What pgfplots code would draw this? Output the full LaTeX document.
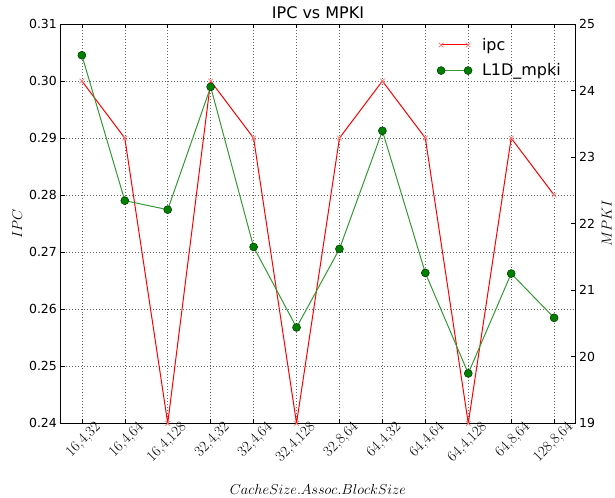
\documentclass[border=0pt]{standalone}
\usepackage{fontspec}
\usepackage{pgfplots}
\pgfplotsset{compat=1.18}
\newfontfamily\dejavu{DejaVu Sans}
\definecolor{mplgreen}{rgb}{0,0.5,0}
\definecolor{linegreen}{rgb}{0.2,0.6,0.2}
\begin{document}
\begin{tikzpicture}
\pgfplotsset{
  common/.style={
    width=516pt, height=400pt, scale only axis,
    xmin=-0.5, xmax=11.5,
    tick align=inside,
    major tick length=4.5pt,
    tick style={black, line width=0.6pt},
    axis line style={black, line width=0.9pt},
    /pgf/number format/assume math mode=true,
    label style={font=\fontsize{14}{16}\selectfont},
    every tick label/.append style={font=\dejavu\fontsize{12.5}{14}\selectfont},
  }
}
\begin{axis}[common, name=main,
  ymin=0.24, ymax=0.31,
  ytick={0.24,0.25,0.26,0.27,0.28,0.29,0.30,0.31},
  yticklabel style={/pgf/number format/fixed, /pgf/number format/fixed zerofill, /pgf/number format/precision=2},
  scaled y ticks=false,
  ytick pos=left,
  xtick pos=both,
  xtick={0,1,2,3,4,5,6,7,8,9,10,11},
  xticklabels={{16,4,32},{16,4,64},{16,4,128},{32,4,32},{32,4,64},{32,4,128},{32,8,64},{64,4,32},{64,4,64},{64,4,128},{64,8,64},{128,8,64}},
  xticklabel style={font=\rmfamily\fontsize{15}{17}\selectfont, rotate=45, anchor=north east, xshift=14pt, yshift=-3pt},
  grid=major,
  major grid style={black!60, line width=0.5pt, dash pattern=on 1pt off 2pt},
  ylabel={$IPC$},
  xlabel={$CacheSize.Assoc.BlockSize$},
  xlabel style={yshift=-12pt},
  title={\dejavu\fontsize{16}{18}\selectfont IPC vs MPKI},
  title style={yshift=-4pt},
]
\addplot[red, line width=1pt, mark=x, mark size=3.3pt, mark options={solid, red!55, line width=0.7pt}] coordinates {
(0,0.30) (1,0.29) (2,0.24) (3,0.30) (4,0.29) (5,0.24) (6,0.29) (7,0.30) (8,0.29) (9,0.24) (10,0.29) (11,0.28)
};
\end{axis}
\begin{axis}[common,
  axis x line=none,
  axis y line*=right,
  ymin=19, ymax=25,
  ytick={19,20,21,22,23,24,25},
  ylabel={$MPKI$},
  legend style={draw=none, fill=none, at={(axis description cs:0.725,0.975)}, anchor=north west,
     font=\dejavu\fontsize{16}{18}\selectfont, row sep=8pt, column sep=8pt},
  legend cell align=left,
  legend image code/.code={\draw[#1] plot coordinates {(0pt,0pt) (27pt,0pt)};},
]
\addlegendimage{red, line width=1pt, mark=x, mark size=3.3pt, mark options={solid, red!55, line width=0.7pt}}
\addlegendentry{ipc}
\addplot[linegreen, line width=1pt, mark=*, mark size=4pt, mark options={solid, fill=mplgreen, draw=black!60!mplgreen, line width=0.5pt}] coordinates {
(0,24.53) (1,22.345) (2,22.21) (3,24.055) (4,21.65) (5,20.44) (6,21.62) (7,23.395) (8,21.26) (9,19.75) (10,21.25) (11,20.585)
};
\addlegendentry{L1D\_mpki}
\end{axis}
\path (main.south west) ++(-60.5pt,-73pt) rectangle ++(615pt,497pt);
\end{tikzpicture}
\end{document}
